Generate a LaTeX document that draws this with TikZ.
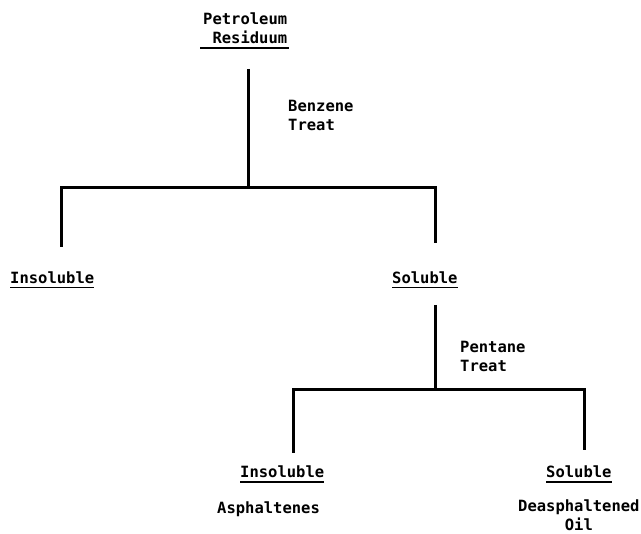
\documentclass[tikz,border=0pt]{standalone}
\usepackage{fontspec}
\newfontfamily\tw{DejaVu Sans Mono Bold}
\begin{document}
\begin{tikzpicture}[x=1pt,y=-1pt,
  lbl/.style={font=\tw\fontsize{15.5}{19}\selectfont, inner sep=0pt, anchor=base west},
  ul/.style={line width=1.3pt},
  br/.style={line width=3pt, line join=miter}]
\useasboundingbox[fill=white] (0,0) rectangle (641,534);
% texts (multi-line nodes: base = last line's baseline)
\node[lbl, align=right] (pr) at (203,44) {Petroleum\\Residuum};
\node[lbl, align=left] (bt) at (288,131) {Benzene\\Treat};
\node[lbl] (ins1) at (10,283.5) {Insoluble};
\node[lbl] (sol1) at (392,283.5) {Soluble};
\node[lbl, align=left] (pt) at (460,372) {Pentane\\Treat};
\node[lbl] (ins2) at (240,478) {Insoluble};
\node[lbl] (sol2) at (546,478) {Soluble};
\node[lbl] (asp) at (217,514) {Asphaltenes};
\node[lbl, align=center] (dao) at (518,530.5) {Deasphaltened\\Oil};
% underlines
\foreach \n in {ins1,sol1,ins2,sol2}
  \draw[ul] ([yshift=-3.5pt]\n.south west) -- ([yshift=-3.5pt]\n.south east);
\draw[ul] ([xshift=-3pt,yshift=-3.5pt]pr.south west) -- ([xshift=2pt,yshift=-3.5pt]pr.south east);
% connector points
\coordinate (a1) at (248,69);
\coordinate (a2) at (248,188);
\coordinate (l1) at (61,188);
\coordinate (l1e) at (61,247);
\coordinate (r1) at (435,188);
\coordinate (r1e) at (435,243);
\coordinate (b1) at (435,305);
\coordinate (b2) at (435,390);
\coordinate (l2) at (293,390);
\coordinate (l2e) at (293,453);
\coordinate (r2) at (584,390);
\coordinate (r2e) at (584,450);
% tree
\draw[br] (a1) -- (a2);
\draw[br] (l1e) -- (l1) -- (r1) -- (r1e);
\draw[br] (b1) -- (b2);
\draw[br] (l2e) -- (l2) -- (r2) -- (r2e);
\end{tikzpicture}
\end{document}
